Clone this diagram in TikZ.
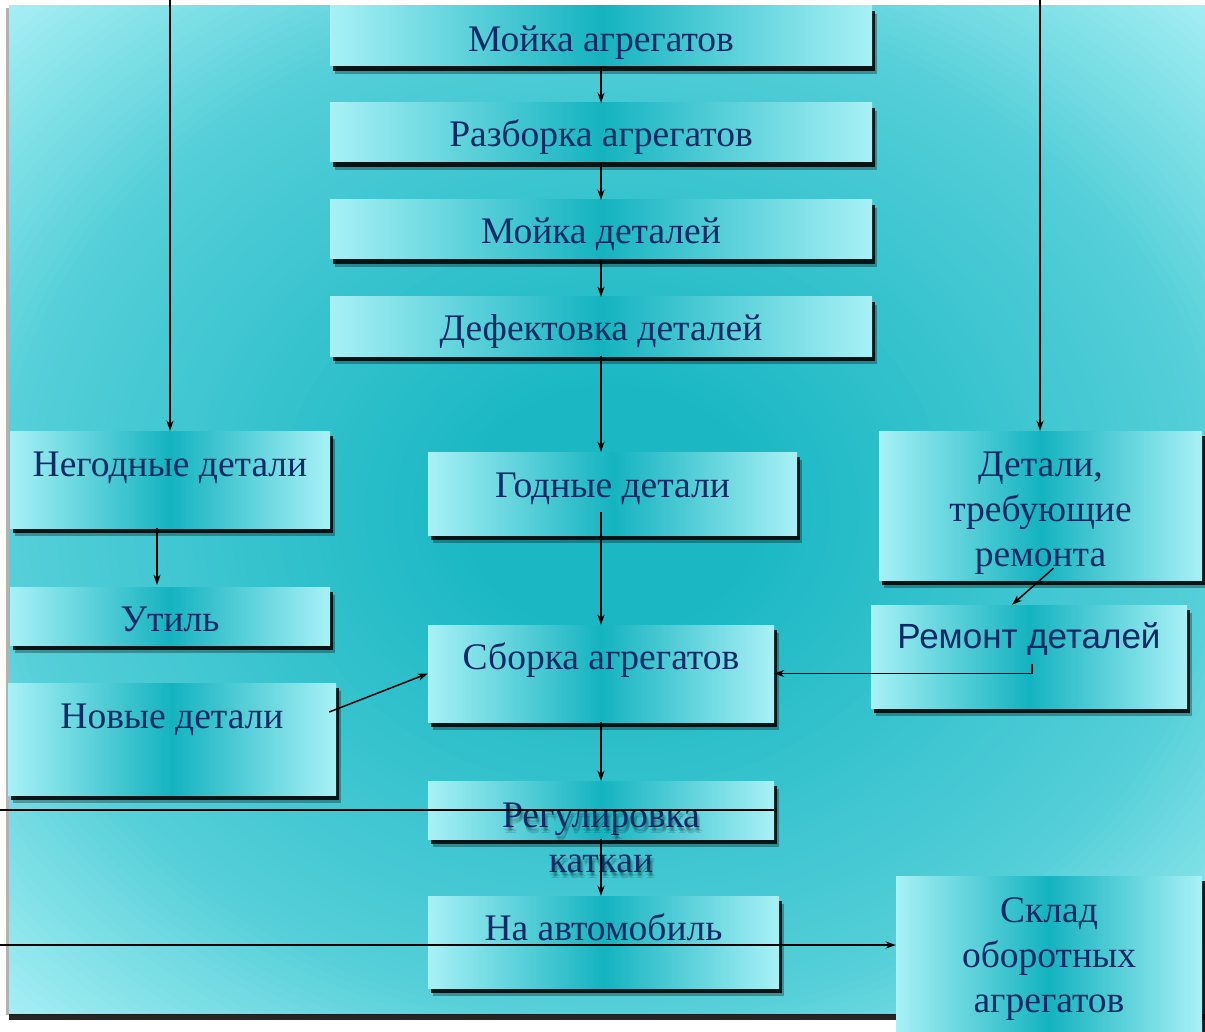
\documentclass[tikz,border=0pt]{standalone}
\usepackage{fontspec}
\setmainfont{Liberation Serif}
\newfontfamily\remfont{Liberation Sans}
\usetikzlibrary{arrows.meta,calc,shadows}
\definecolor{boxlight}{HTML}{A8F1F6}
\definecolor{boxdark}{HTML}{14B3C0}
\definecolor{txtcol}{HTML}{0C2A66}
\definecolor{bgdark}{HTML}{1BB8C4}
\definecolor{bglight}{HTML}{ABF1F6}
\begin{document}
\begin{tikzpicture}[x=1pt,y=-1pt,
  box/.style={rectangle, inner sep=0pt, draw=none,
    left color=boxlight, right color=boxlight, middle color=boxdark,
    general shadow={shadow xshift=5pt, shadow yshift=-8pt, fill=black, opacity=.3},
    general shadow={shadow xshift=3pt, shadow yshift=-5pt, fill=black, opacity=.85}},
  txt/.style={text=txtcol, font=\fontsize{37.5}{45}\selectfont, inner sep=0pt, anchor=base},
  tshadow/.style={txt, text=black, text opacity=.14},
  ln/.style={line width=1.5pt, black},
  arr/.style={ln, -{Stealth[length=10pt,width=7pt,inset=3pt]}}]
\fill[white] (0,0) rectangle (1205,1032);
\useasboundingbox (0,0) rectangle (1205,1032);
% background panel: shadow, then layered radial gradient
\fill[black, opacity=.3] (6,8) rectangle (1215,1015);
\fill[black, opacity=.85] (9,13) rectangle (1215,1020);
\begin{scope}
\clip (9,6) rectangle (1215,1013);
\foreach \i in {0,...,89}{
  \pgfmathsetmacro{\r}{1.45-\i*0.016}
  \pgfmathsetmacro{\f}{\r>=1 ? 40+60*(\r-1)/0.45 : (\r>=0.25 ? 40*(\r-0.25)/0.75 : 0)}
  \fill[bglight!\f!bgdark] (612,510) ellipse [x radius=\r*603pt, y radius=\r*503pt];
}
\end{scope}
% boxes
\node[box, minimum width=542, minimum height=60] (m1) at (601,36) {};
\node[box, minimum width=542, minimum height=59] (m2) at (601,132.5) {};
\node[box, minimum width=542, minimum height=59] (m3) at (601,229.5) {};
\node[box, minimum width=542, minimum height=59] (m4) at (601,326.5) {};
\node[box, minimum width=320, minimum height=97] (neg) at (170,479.5) {};
\node[box, minimum width=369, minimum height=83] (god) at (612.5,493.5) {};
\node[box, minimum width=323, minimum height=149] (dtr) at (1040.5,505.5) {};
\node[box, minimum width=320, minimum height=58] (util) at (170,616) {};
\node[box, minimum width=328, minimum height=112] (nov) at (172,739) {};
\node[box, minimum width=346, minimum height=97] (sb) at (601,673.5) {};
\node[box, minimum width=316, minimum height=103] (rem) at (1029,656.5) {};
\node[box, minimum width=346, minimum height=58] (reg) at (601,810) {};
\node[box, minimum width=351, minimum height=92] (avto) at (603.5,942) {};
\node[box, minimum width=306, minimum height=169] (skl) at (1049,960.5) {};
% texts
\node[txt] (t1) at (m1.center |- 0,52) {Мойка агрегатов};
\node[txt] (t2) at (m2.center |- 0,147) {Разборка агрегатов};
\node[txt] (t3) at (m3.center |- 0,244) {Мойка деталей};
\node[txt] (t4) at (m4.center |- 0,341) {Дефектовка деталей};
\node[txt] (tneg) at (neg.center |- 0,476) {Негодные детали};
\node[txt] (tgod) at (god.center |- 0,497) {Годные детали};
\node[txt] (tdtr) at (dtr.center |- 0,476) {\begin{tabular}[t]{@{}c@{}}Детали,\\требующие\\ремонта\end{tabular}};
\node[txt] (tutil) at (util.center |- 0,631) {Утиль};
\node[txt] (tnov) at (nov.center |- 0,728) {Новые детали};
\node[txt] (tsb) at (sb.center |- 0,669) {Сборка агрегатов};
\node[txt, font=\remfont\fontsize{35}{45}\selectfont] (trem) at (rem.center |- 0,648) {Ремонт деталей};
\foreach \dx/\dy [count=\k] in {1/3,3/4,2/6}{
  \node[tshadow] (tregs\k) at ($(reg.center |- 0,827)+(\dx,\dy)$) {\begin{tabular}[t]{@{}c@{}}Регулировка\\каткаи\end{tabular}};
}
\node[txt] (treg) at (reg.center |- 0,827) {\begin{tabular}[t]{@{}c@{}}Регулировка\\каткаи\end{tabular}};
\node[txt] (tavto) at (avto.center |- 0,940) {На автомобиль};
\node[txt] (tskl) at (skl.center |- 0,922) {\begin{tabular}[t]{@{}c@{}}Склад\\оборотных\\агрегатов\end{tabular}};
% free ends
\coordinate (topL) at (170,0);
\coordinate (topR) at (1040,0);
\coordinate (leftA) at (0,810);
\coordinate (leftB) at (0,945);
% connectors
\draw[arr] (m1.south) -- (m2.north);
\draw[arr] (m2.south) -- (m3.north);
\draw[arr] (m3.south) -- (m4.north);
\draw[arr] (m4.south) -- (m4.south |- god.north);
\draw[arr] (topL) -- (neg.north);
\draw[arr] (topR) -- (topR |- dtr.north);
\draw[arr] ($(neg.south)+(-13,0)$) -- ($(util.north)+(-13,-2)$);
\draw[arr] ($(sb.north |- god.south)+(0,-23)$) -- (sb.north);
\draw[arr] ($(nov.east)+(-7,-27)$) -- (sb.west);
\draw[arr] ($(dtr.south)+(13,-12)$) -- ($(rem.north)+(-17,0)$);
\draw[arr] ($(rem.center)+(3,7)$) |- (sb.east);
\draw[arr] (sb.south) -- (reg.north);
\draw[ln] (leftA) -- (reg.east);
\draw[arr] (reg.south) -- (reg.south |- avto.north);
\draw[arr] (leftB) -- (leftB -| skl.west);
\end{tikzpicture}
\end{document}
